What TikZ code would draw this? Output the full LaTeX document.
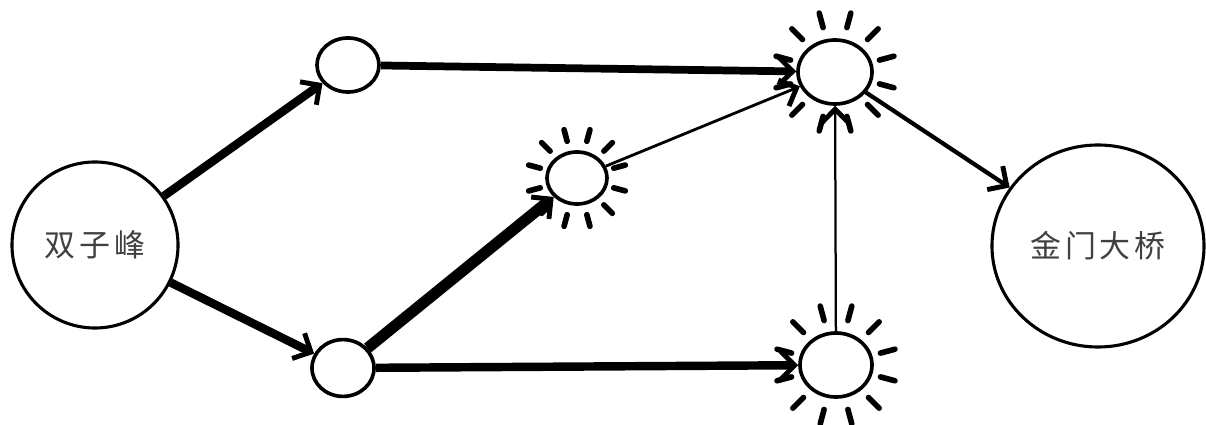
\documentclass[tikz,border=0pt]{standalone}
\usepackage{fontspec}
\newfontfamily\cjk{Noto Sans CJK SC}
\usetikzlibrary{arrows.meta,shapes.geometric}

% short strokes round a busy spot
\newcommand{\sunrays}[3]{%
  \foreach \a in {0,30,...,330}
    \draw[ray,shift={(#1.center)}] (\a+15:#2) -- (\a+15:#3);}

\begin{document}
\begin{tikzpicture}[x=0.025cm,y=-0.025cm,
    spot/.style={draw,ellipse,line width=2.6pt,inner sep=0pt},
    place/.style={spot,line width=2.2pt,font=\cjk\fontsize{22}{26}\selectfont\addfontfeature{LetterSpace=12},text=black!75},
    ray/.style={line width=4pt,line cap=round},
    link/.style={-{Straight Barb[length=10pt,width=20pt,line width=3.5pt]},line width=#1}]
  \useasboundingbox (0,0) rectangle (1206,425);
  \fill[white] (0,0) rectangle (1206,425);
  \node[place,minimum width=4.15cm,minimum height=4.15cm] (twin) at (95,245) {双子峰};
  \node[place,minimum width=5.3cm,minimum height=5.05cm] (gate) at (1098,246) {金门大桥};
  \node[spot,minimum width=1.55cm,minimum height=1.35cm] (a) at (348,65) {};
  \node[spot,minimum width=1.55cm,minimum height=1.42cm] (b) at (343,368) {};
  \node[spot,minimum width=1.5cm,minimum height=1.3cm] (c) at (577,178) {};
  \node[spot,minimum width=1.85cm,minimum height=1.6cm] (d) at (835,72) {};
  \node[spot,minimum width=1.8cm,minimum height=1.6cm] (e) at (836,365) {};
  \sunrays{c}{38}{50}
  \sunrays{d}{46}{61}
  \sunrays{e}{46}{61}
  \draw[link=6pt] (twin) -- (a);
  \draw[link=6pt] (twin) -- (b);
  \draw[link=5.5pt] (a) -- (d);
  \draw[link=8pt] (b) -- (c);
  \draw[link=6pt] (b) -- (e);
  \draw[link=2pt] (c) -- (d);
  \draw[link=1.6pt] (e) -- (d);
  \draw[link=3pt] (d) -- (gate);
\end{tikzpicture}
\end{document}
